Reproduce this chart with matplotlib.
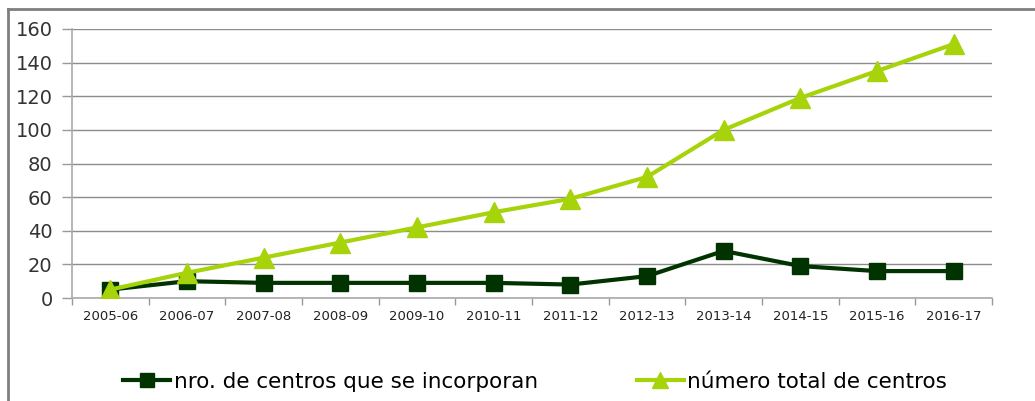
import matplotlib
matplotlib.use("Agg")
import matplotlib.pyplot as plt
from matplotlib.lines import Line2D

categories = ["2005-06", "2006-07", "2007-08", "2008-09", "2009-10", "2010-11",
              "2011-12", "2012-13", "2013-14", "2014-15", "2015-16", "2016-17"]
incorporan = [5, 10, 9, 9, 9, 9, 8, 13, 28, 19, 16, 16]
total = [5, 15, 24, 33, 42, 51, 59, 72, 100, 119, 135, 151]
yticks = [0, 20, 40, 60, 80, 100, 120, 140, 160]

plt.rcParams['font.family'] = ['DejaVu Sans']

fig = plt.figure(figsize=(10.35, 4.01), dpi=100)
ax = fig.add_axes([72/1035, 1-298/401, (992-72)/1035, (298-29)/401])

x = list(range(len(categories)))
dark = "#003300"
light = "#a6d30a"
ax.plot(x, incorporan, color=dark, lw=3, marker="s", ms=12, zorder=3,
        label="nro. de centros que se incorporan")
ax.plot(x, total, color=light, lw=3, marker="^", ms=14, zorder=3,
        label="número total de centros")

ax.set_xlim(-0.5, len(categories) - 0.5)
ax.set_ylim(0, 160)
ax.set_yticks(yticks)
ax.set_yticklabels([str(v) for v in yticks], fontsize=14, color="#333333")
ax.set_xticks(x)
ax.set_xticklabels(categories, fontsize=9.5, color="#222222")
ax.tick_params(axis="x", which="major", length=0, pad=9)
ax.set_xticks([i - 0.5 for i in range(len(categories) + 1)], minor=True)
ax.tick_params(axis="x", which="minor", length=5, color="#999999", width=1)
ax.tick_params(axis="y", length=7, color="#999999", width=1, pad=7)
ax.grid(axis="y", color="#8c8c8c", lw=1)
ax.set_axisbelow(True)
for s in ["top", "right"]:
    ax.spines[s].set_visible(False)
for s in ["left", "bottom"]:
    ax.spines[s].set_color("#aaaaaa")
    ax.spines[s].set_linewidth(1.2)

fig.legend(loc="center", bbox_to_anchor=(0.517, 1-382/401), ncol=2, frameon=False,
           fontsize=15.5, handlelength=2.2, columnspacing=4.6, handletextpad=0.15,
           markerscale=0.85)

# outer border (top and left)
fig.add_artist(Line2D([8/1035, 1.0], [1-9/401, 1-9/401], transform=fig.transFigure,
                      color="#7f7f7f", lw=2))
fig.add_artist(Line2D([8/1035, 8/1035], [0, 1-9/401], transform=fig.transFigure,
                      color="#7f7f7f", lw=2))

fig.savefig("out.png", dpi=100)
